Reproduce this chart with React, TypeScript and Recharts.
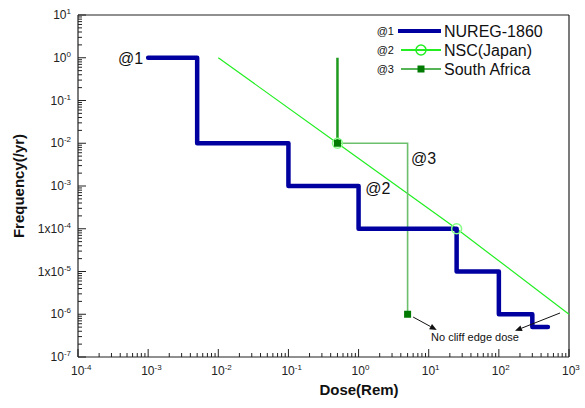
import { LineChart, Line, XAxis, YAxis, ReferenceLine, ReferenceDot } from "recharts";

// NUREG-1860 staircase (dose in rem, frequency per year)
const nureg = [
  { x: 1e-3, y: 1 },
  { x: 5e-3, y: 1 },
  { x: 5e-3, y: 1e-2 },
  { x: 1e-1, y: 1e-2 },
  { x: 1e-1, y: 1e-3 },
  { x: 1, y: 1e-3 },
  { x: 1, y: 1e-4 },
  { x: 25, y: 1e-4 },
  { x: 25, y: 1e-5 },
  { x: 100, y: 1e-5 },
  { x: 100, y: 1e-6 },
  { x: 300, y: 1e-6 },
  { x: 300, y: 5e-7 },
  { x: 500, y: 5e-7 },
];

// NSC (Japan) line, circles on the two middle points
const nsc = [
  { x: 1e-2, y: 1 },
  { x: 0.5, y: 1e-2 },
  { x: 25, y: 1e-4 },
  { x: 1000, y: 1e-6 },
];

// South Africa
const saUpper = [
  { x: 0.5, y: 1 },
  { x: 0.5, y: 1e-2 },
];
const saLower = [
  { x: 0.5, y: 1e-2 },
  { x: 5, y: 1e-2 },
  { x: 5, y: 1e-6 },
];
const saMarks = [
  { x: 0.5, y: 1e-2 },
  { x: 5, y: 1e-6 },
];

const xMajor = [1e-4, 1e-3, 1e-2, 1e-1, 1, 10, 100, 1000];
const xExp = ["-4", "-3", "-2", "-1", "0", "1", "2", "3"];
const yMajor = [10, 1, 1e-1, 1e-2, 1e-3, 1e-4, 1e-5, 1e-6, 1e-7];
const yBase = ["10", "10", "10", "10", "10", "1x10", "1x10", "10", "10"];
const yExp = ["1", "0", "-1", "-2", "-3", "-4", "-5", "-6", "-7"];
const minorSteps = [2, 3, 4, 5, 6, 7, 8, 9];

const withMinor = (majors: number[]) => {
  const sorted = [...majors].sort((a, b) => a - b);
  const out: number[] = [];
  sorted.forEach((m, i) => {
    out.push(m);
    if (i < sorted.length - 1) minorSteps.forEach((s) => out.push(m * s));
  });
  return out;
};
const xTicks = withMinor(xMajor);
const yTicks = withMinor(yMajor);

const majorIndex = (arr: number[], v: number) =>
  arr.findIndex((m) => Math.abs(Math.log10(m) - Math.log10(v)) < 1e-6);

const FONT = "'Liberation Sans', Arial, sans-serif";
const NAVY = "#0000a0";
const LIME = "#22ee22";
const DARK_GREEN = "#1e9a1e";
const LIGHT_GREEN = "#6cbf6c";
const SQUARE = "#007a00";

function XTick(props: any) {
  const { x, y, payload } = props;
  const i = majorIndex(xMajor, payload.value);
  if (i < 0) return <line x1={x} y1={y} x2={x} y2={y - 4} stroke="#222" />;
  return (
    <g>
      <line x1={x} y1={y} x2={x} y2={y - 8} stroke="#222" />
      <text x={x - 7} y={y + 18} fontSize={12} fill="#222" fontFamily={FONT}>
        10
        <tspan dy={-5} fontSize={8}>
          {xExp[i]}
        </tspan>
      </text>
    </g>
  );
}

function YTick(props: any) {
  const { x, y, payload } = props;
  const i = majorIndex(yMajor, payload.value);
  if (i < 0) return <line x1={x} y1={y} x2={x + 4} y2={y} stroke="#222" />;
  return (
    <g>
      <line x1={x} y1={y} x2={x + 8} y2={y} stroke="#222" />
      <text x={x - 7} y={y + 4} fontSize={12} fill="#222" fontFamily={FONT} textAnchor="end">
        {yBase[i]}
        <tspan dy={-5} fontSize={8}>
          {yExp[i]}
        </tspan>
      </text>
    </g>
  );
}

const nscDot = (props: any) => {
  const { cx, cy, index } = props;
  if (index === 0 || index === nsc.length - 1) return <g key={index} />;
  return <circle key={index} cx={cx} cy={cy} r={5} fill="none" stroke="#88ff88" strokeWidth={1.5} />;
};

const squareDot = (props: any) => {
  const { cx, cy, index } = props;
  return <rect key={index} x={cx - 3.5} y={cy - 3.5} width={7} height={7} fill={SQUARE} />;
};

const arrow = (props: any) => {
  const { x1, y1, x2, y2 } = props;
  const a = Math.atan2(y2 - y1, x2 - x1);
  const L = 7;
  const w = 3;
  const bx = x2 - L * Math.cos(a);
  const by = y2 - L * Math.sin(a);
  const px = -Math.sin(a) * w;
  const py = Math.cos(a) * w;
  return (
    <g>
      <line x1={x1} y1={y1} x2={bx} y2={by} stroke="#111" strokeWidth={1} />
      <polygon points={`${x2},${y2} ${bx + px},${by + py} ${bx - px},${by - py}`} fill="#111" />
    </g>
  );
};

const label = (text: string, dx: number, dy: number, size: number, anchor = "start") => (p: any) => (
  <text x={p.cx + dx} y={p.cy + dy} fontSize={size} fontFamily={FONT} fill="#111" textAnchor={anchor}>
    {text}
  </text>
);

function LegendBox() {
  const rows = [
    { tag: "@1", name: "NUREG-1860" },
    { tag: "@2", name: "NSC(Japan)" },
    { tag: "@3", name: "South Africa" },
  ];
  return (
    <svg width={200} height={70} style={{ position: "absolute", left: 370, top: 20 }}>
      {rows.map((r, i) => {
        const cy = 11 + i * 19;
        return (
          <g key={r.tag}>
            <text x={24} y={cy + 4} fontSize={11} fontFamily={FONT} fill="#111" textAnchor="end">
              {r.tag}
            </text>
            {i === 0 && <line x1={28} y1={cy} x2={71} y2={cy} stroke={NAVY} strokeWidth={4} />}
            {i === 1 && (
              <g>
                <line x1={31} y1={cy} x2={71} y2={cy} stroke={LIME} strokeWidth={2} />
                <circle cx={51} cy={cy} r={5} fill="none" stroke={LIME} strokeWidth={1.5} />
              </g>
            )}
            {i === 2 && (
              <g>
                <line x1={31} y1={cy} x2={71} y2={cy} stroke={DARK_GREEN} strokeWidth={1.5} />
                <rect x={47.5} y={cy - 3.5} width={7} height={7} fill={SQUARE} />
              </g>
            )}
            <text x={74} y={cy + 6} fontSize={16} fontFamily={FONT} fill="#111">
              {r.name}
            </text>
          </g>
        );
      })}
    </svg>
  );
}

export default function App() {
  return (
    <div style={{ position: "absolute", left: 0, top: 0, width: 585, height: 408, background: "#fff" }}>
      <LineChart width={585} height={408} margin={{ top: 15, right: 16, bottom: 0, left: 0 }}>
        <XAxis
          type="number"
          dataKey="x"
          scale="log"
          domain={[1e-4, 1e3]}
          ticks={xTicks}
          interval={0}
          tick={<XTick />}
          tickLine={false}
          tickSize={0}
          tickMargin={0}
          height={51}
          axisLine={{ stroke: "#222", strokeWidth: 1.2 }}
          allowDataOverflow
        />
        <YAxis
          type="number"
          dataKey="y"
          scale="log"
          domain={[1e-7, 10]}
          ticks={yTicks}
          interval={0}
          tick={<YTick />}
          tickLine={false}
          tickSize={0}
          tickMargin={0}
          width={78}
          axisLine={{ stroke: "#222", strokeWidth: 1.2 }}
          allowDataOverflow
        />
        <ReferenceLine y={10} stroke="#222" strokeWidth={1.2} />
        <ReferenceLine x={1000} stroke="#222" strokeWidth={1.2} />
        <Line data={nsc} dataKey="y" stroke={LIME} strokeWidth={1.2} dot={nscDot} isAnimationActive={false} />
        <Line data={saUpper} dataKey="y" stroke={DARK_GREEN} strokeWidth={2.5} dot={false} isAnimationActive={false} />
        <Line data={saLower} dataKey="y" stroke={LIGHT_GREEN} strokeWidth={1.6} dot={false} isAnimationActive={false} />
        <Line
          data={nureg}
          dataKey="y"
          stroke={NAVY}
          strokeWidth={4.5}
          strokeLinejoin="round"
          strokeLinecap="round"
          dot={false}
          isAnimationActive={false}
        />
        <Line data={saMarks} dataKey="y" stroke="none" dot={squareDot} isAnimationActive={false} />
        <ReferenceDot x={1e-3} y={1} r={0} shape={label("@1", -5, 6, 16, "end")} />
        <ReferenceDot x={1.25} y={9e-4} r={0} shape={label("@2", 0, 6, 16)} />
        <ReferenceDot x={5.6} y={4.5e-3} r={0} shape={label("@3", 0, 6, 16)} />
        <ReferenceDot x={10.8} y={2.37e-7} r={0} shape={label("No cliff edge dose", 0, 0, 11)} />
        <ReferenceLine segment={[{ x: 6, y: 8.6e-7 }, { x: 13, y: 4.3e-7 }]} shape={arrow} />
        <ReferenceLine segment={[{ x: 745, y: 1.07e-6 }, { x: 170, y: 4.1e-7 }]} shape={arrow} />
      </LineChart>
      <LegendBox />
      <div
        style={{
          position: "absolute",
          left: 18,
          top: 186,
          transform: "translate(-50%, -50%) rotate(-90deg)",
          fontFamily: FONT,
          fontWeight: "bold",
          fontSize: 15,
          whiteSpace: "nowrap",
          color: "#111",
        }}
      >
        Frequency(/yr)
      </div>
      <div
        style={{
          position: "absolute",
          left: 359,
          top: 389,
          transform: "translate(-50%, -50%)",
          fontFamily: FONT,
          fontWeight: "bold",
          fontSize: 15,
          whiteSpace: "nowrap",
          color: "#111",
        }}
      >
        Dose(Rem)
      </div>
    </div>
  );
}
